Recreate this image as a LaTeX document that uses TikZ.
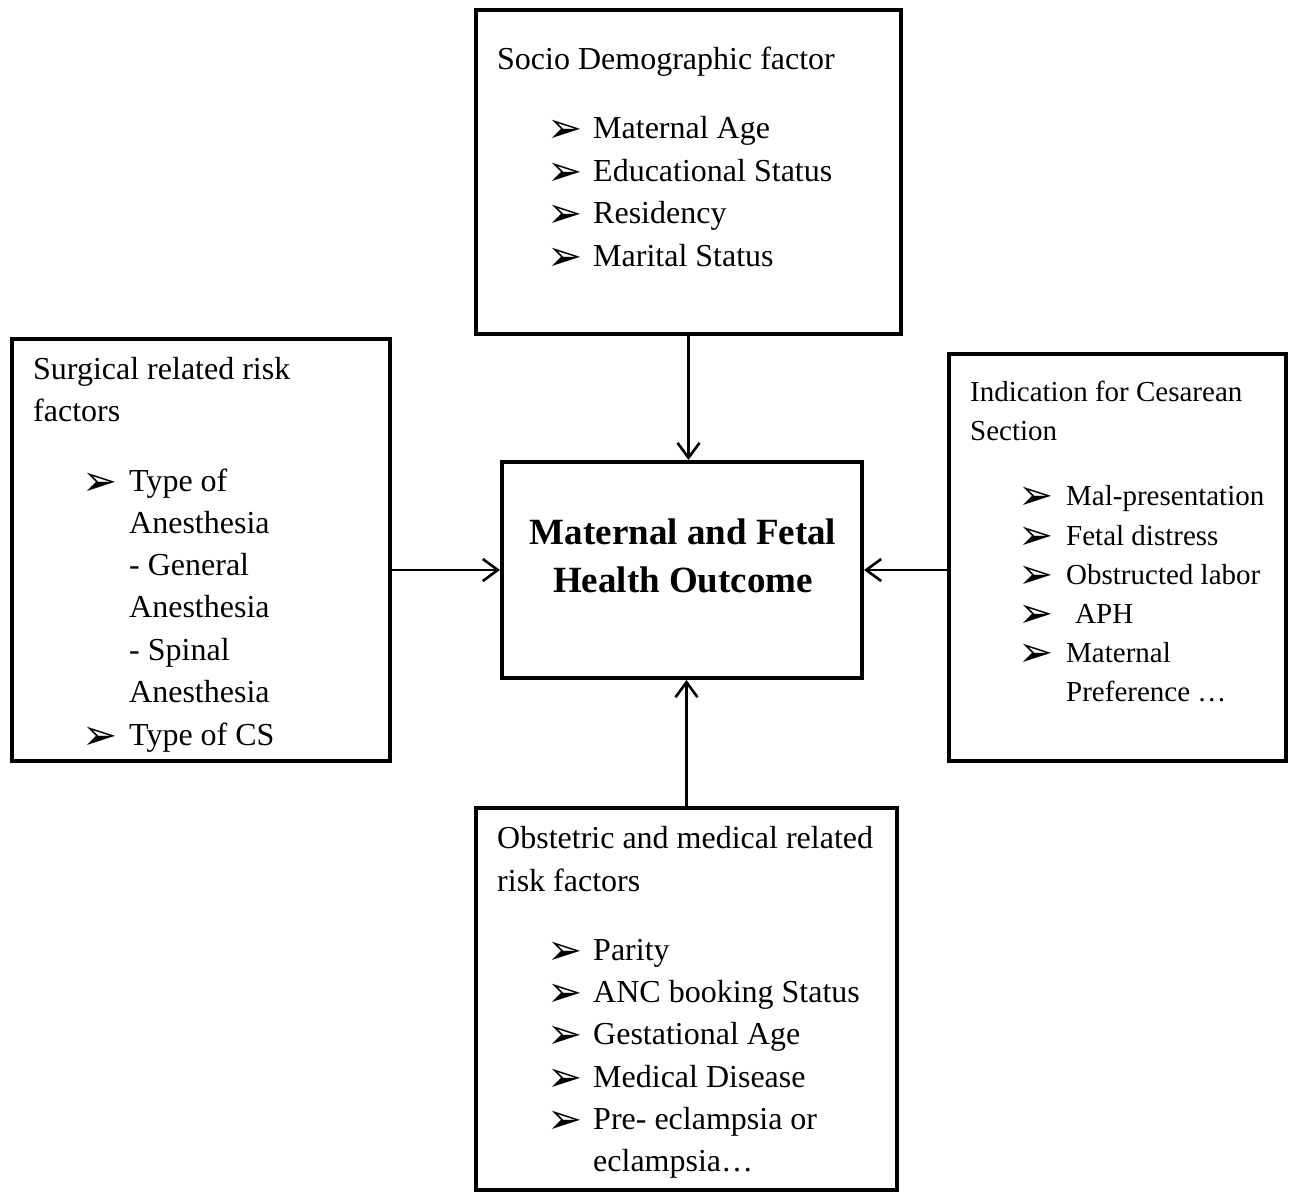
\documentclass[tikz,border=0pt]{standalone}
\usepackage{fontspec}
\setmainfont{Liberation Serif}
\newfontfamily\symfont{DejaVu Sans}
\usetikzlibrary{arrows.meta}
\newcommand{\bul}{{\symfont\fontsize{42}{42}\selectfont ➢}}
\begin{document}
\begin{tikzpicture}[x=1pt, y=-1pt,
    box/.style={draw, line width=4pt, inner sep=0pt},
    txt/.style={anchor=base west, inner sep=0pt, font=\fontsize{32}{38}\selectfont},
    small/.style={anchor=base west, inner sep=0pt, font=\fontsize{29}{35}\selectfont},
    bul/.style={anchor=base west, inner sep=0pt, yshift=-4pt},
    bold/.style={inner sep=0pt, font=\bfseries\fontsize{37}{48}\selectfont, align=center},
    arr/.style={line width=2.2pt, -{Straight Barb[length=15pt, width=22pt, line width=2.6pt]}}]
        \useasboundingbox (0,0) rectangle (1295,1195);
        \draw (688.5,172) node(socio)[box, minimum width=425pt, minimum height=324pt]{};
        \draw (201,550) node(surg)[box, minimum width=378pt, minimum height=422pt]{};
        \draw (682,570) node(outcome)[box, minimum width=360pt, minimum height=216pt]{};
        \draw (1117.5,557.5) node(indic)[box, minimum width=337pt, minimum height=407pt]{};
        \draw (686.5,999) node(obst)[box, minimum width=421pt, minimum height=382pt]{};
        \draw (683,556) node(title)[bold]{Maternal and Fetal\\Health Outcome};
        \draw[arr] (socio.south) -- (socio.south |- outcome.north);
        \draw[arr] (obst.north) -- (obst.north |- outcome.south);
        \draw[arr] (surg.east |- outcome.west) -- (outcome.west);
        \draw[arr] (indic.west |- outcome.east) -- (outcome.east);
        \draw (497,69) node(socio head)[txt]{Socio Demographic factor};
        \foreach \y/\t [count=\i] in {138/Maternal Age, 181/Educational Status, 223/Residency, 266/Marital Status} {
            \draw (547,\y) node(socio b\i)[bul]{\bul};
            \draw (593,\y) node(socio t\i)[txt]{\t};
        }
        \draw (33,379) node(surg head1)[txt]{Surgical related risk};
        \draw (33,421) node(surg head2)[txt]{factors};
        \foreach \y/\t [count=\i] in {491/Type of, 533/Anesthesia, 575/- General, 617/Anesthesia, 660/- Spinal, 702/Anesthesia, 745/Type of CS}
            \draw (129,\y) node(surg t\i)[txt]{\t};
        \draw (82,491) node(surg b1)[bul]{\bul};
        \draw (82,745) node(surg b2)[bul]{\bul};
        \draw (970,401) node(indic head1)[small]{Indication for Cesarean};
        \draw (970,440) node(indic head2)[small]{Section};
        \foreach \y/\t [count=\i] in {505/Mal-presentation, 545/Fetal distress, 584/Obstructed labor, 623/\hspace{9pt}APH, 662/Maternal, 701/Preference …}
            \draw (1066,\y) node(indic t\i)[small]{\t};
        \foreach \y [count=\i] in {505,545,584,623,662}
            \draw (1018,\y) node(indic b\i)[bul]{\bul};
        \draw (497,848) node(obst head1)[txt]{Obstetric and medical related};
        \draw (497,891) node(obst head2)[txt]{risk factors};
        \foreach \y/\t [count=\i] in {960/Parity, 1002/ANC booking Status, 1044/Gestational Age, 1087/Medical Disease, 1129/Pre- eclampsia or, 1171/eclampsia…}
            \draw (593,\y) node(obst t\i)[txt]{\t};
        \foreach \y [count=\i] in {960,1002,1044,1087,1129}
            \draw (547,\y) node(obst b\i)[bul]{\bul};
    \end{tikzpicture}
\end{document}
